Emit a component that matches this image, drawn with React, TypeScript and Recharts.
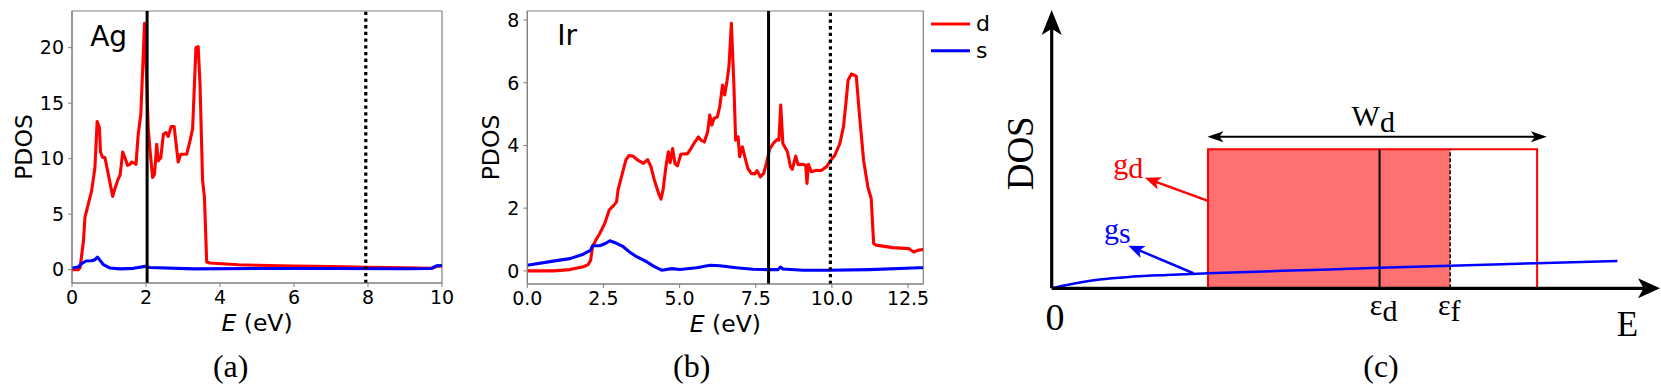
import React from "react";
import {
  LineChart,
  Line,
  XAxis,
  YAxis,
  ReferenceLine,
  ReferenceArea,
  ReferenceDot,
  Legend,
} from "recharts";

// panel (a): Ag projected DOS
const agDE = [0, 0.17, 0.22, 0.31, 0.35, 0.44, 0.53, 0.62, 0.68, 0.74, 0.77, 0.83, 0.89, 1.1, 1.16, 1.25, 1.3, 1.37, 1.43, 1.5, 1.57, 1.61, 1.73, 1.79, 1.86, 1.96, 2.0, 2.06, 2.11, 2.18, 2.23, 2.29, 2.33, 2.4, 2.47, 2.54, 2.6, 2.68, 2.76, 2.87, 2.94, 3.1, 3.19, 3.26, 3.35, 3.41, 3.46, 3.53, 3.58, 3.64, 3.73, 4.5, 5.0, 6.0, 7.0, 8.0, 9.0, 9.75, 9.85, 10];
const agDV = [0, 0, 0.2, 2.6, 4.7, 5.9, 7.1, 9.2, 13.35, 12.8, 10.6, 10.1, 10.1, 6.6, 7.3, 8.2, 8.5, 10.6, 10.1, 9.4, 9.5, 9.7, 9.5, 12.2, 14.0, 22.2, 18.8, 12.8, 10.7, 8.3, 8.6, 11.3, 9.8, 10.1, 12.2, 12.35, 12.0, 12.9, 12.9, 9.7, 10.4, 10.4, 11.6, 12.7, 20.0, 20.1, 16.7, 8.0, 6.5, 0.7, 0.6, 0.45, 0.4, 0.33, 0.28, 0.22, 0.17, 0.13, 0.3, 0.33];
const agSE = [0, 0.17, 0.26, 0.38, 0.53, 0.62, 0.69, 0.76, 0.85, 1.03, 1.3, 1.66, 1.98, 2.1, 3.3, 5, 7, 9, 9.7, 9.85, 10];
const agSV = [0.15, 0.25, 0.55, 0.78, 0.8, 0.9, 1.13, 0.83, 0.45, 0.15, 0.07, 0.12, 0.3, 0.2, 0.07, 0.1, 0.1, 0.08, 0.1, 0.35, 0.38];
const agTicksX = [0, 2, 4, 6, 8, 10];
const agTicksY = [0, 5, 10, 15, 20];
const agEd = 2.03;
const agEf = 7.94;

// panel (b): Ir projected DOS
const irDE = [0, 0.85, 1.4, 1.84, 2.0, 2.08, 2.14, 2.25, 2.38, 2.55, 2.69, 2.82, 2.93, 2.98, 3.09, 3.24, 3.34, 3.47, 3.63, 3.81, 3.95, 4.06, 4.17, 4.31, 4.39, 4.46, 4.55, 4.63, 4.69, 4.77, 4.85, 4.93, 5.04, 5.26, 5.37, 5.48, 5.62, 5.7, 5.81, 5.92, 5.99, 6.06, 6.13, 6.24, 6.32, 6.41, 6.48, 6.56, 6.62, 6.7, 6.78, 6.84, 6.92, 6.97, 7.06, 7.14, 7.24, 7.35, 7.46, 7.54, 7.65, 7.76, 7.85, 7.96, 8.09, 8.2, 8.26, 8.32, 8.39, 8.54, 8.64, 8.7, 8.81, 8.89, 9.03, 9.14, 9.18, 9.23, 9.32, 9.49, 9.65, 9.82, 9.98, 10.09, 10.26, 10.38, 10.47, 10.53, 10.64, 10.8, 10.91, 11.04, 11.18, 11.29, 11.37, 11.45, 12.0, 12.52, 12.68, 12.85, 13.0];
const irDV = [0, 0, 0.04, 0.13, 0.2, 0.34, 0.77, 0.98, 1.19, 1.53, 1.94, 2.07, 2.2, 2.58, 3.0, 3.55, 3.68, 3.66, 3.53, 3.43, 3.55, 3.32, 2.9, 2.47, 2.29, 2.6, 3.32, 3.8, 3.45, 3.9, 3.42, 3.35, 3.72, 3.74, 3.9, 4.08, 4.27, 4.17, 4.11, 4.43, 4.97, 4.65, 4.86, 4.91, 5.25, 5.93, 5.61, 6.08, 6.51, 7.9, 5.98, 4.17, 4.28, 3.64, 3.96, 3.64, 3.27, 3.11, 3.09, 3.2, 3.0, 3.11, 3.43, 3.9, 4.08, 4.19, 4.17, 5.29, 4.06, 3.8, 3.32, 3.24, 3.66, 3.39, 3.4, 3.37, 2.79, 3.4, 3.16, 3.21, 3.2, 3.32, 3.55, 3.68, 4.06, 4.6, 5.45, 6.08, 6.28, 6.21, 4.91, 3.53, 2.68, 2.3, 0.87, 0.82, 0.74, 0.71, 0.6, 0.66, 0.68];
const irSE = [0, 0.85, 1.4, 1.84, 2.08, 2.14, 2.38, 2.58, 2.71, 2.93, 3.15, 3.37, 3.59, 3.92, 4.14, 4.41, 4.74, 5.01, 5.56, 6.0, 6.32, 6.86, 7.41, 7.85, 8.23, 8.31, 8.39, 9.05, 9.92, 11.23, 12.87, 13.0];
const irSV = [0.18, 0.31, 0.39, 0.53, 0.66, 0.8, 0.8, 0.88, 0.96, 0.88, 0.77, 0.59, 0.45, 0.29, 0.15, 0.02, 0.07, 0.04, 0.1, 0.18, 0.16, 0.1, 0.05, 0.04, 0.04, 0.12, 0.06, 0.02, 0.02, 0.04, 0.1, 0.1];
const irTicksX = [0, 2.5, 5, 7.5, 10, 12.5];
const irTicksY = [0, 2, 4, 6, 8];
const irEd = 7.92;
const irEf = 9.95;

// panel (c): schematic model (arbitrary units)
const gsE = [0, 0.25, 0.79, 1.34, 1.89, 2.57, 4.58, 5.39, 6.55, 7.97, 9.3];
const gsV = [0, 0.12, 0.32, 0.42, 0.48, 0.54, 0.68, 0.74, 0.81, 0.9, 0.98];
const bandLo = 2.57;
const bandHi = 7.98;
const bandG = 5.0;
const epsD = 5.39;
const epsF = 6.55;

const toPts = (xs: number[], ys: number[]) => xs.map((e, i) => ({ e, v: ys[i] }));

const SANS = "'DejaVu Sans', sans-serif";
const SERIF = "'Liberation Serif', 'Times New Roman', serif";
const FRAME = "#808080";
const RED = "#ff0000";
const BLUE = "#0000ff";

const XTitle = (props: any) => {
  const vb = props.viewBox;
  return (
    <text x={vb.x + vb.width / 2} y={vb.y + 48} textAnchor="middle" fontFamily={SANS} fontSize={23.5} fill="#000">
      <tspan fontStyle="italic">E</tspan> (eV)
    </text>
  );
};

const YTitle = (props: any) => {
  const vb = props.viewBox;
  const x = vb.x + vb.width - props.gap;
  const y = vb.y + vb.height / 2;
  return (
    <text x={x} y={y} transform={`rotate(-90, ${x}, ${y})`} textAnchor="middle" fontFamily={SANS} fontSize={23.5} fill="#000">
      PDOS
    </text>
  );
};

const nameMark = (label: string) => (p: any) => (
  <text x={p.cx} y={p.cy} fontFamily={SANS} fontSize={28} fill="#000">
    {label}
  </text>
);

const LegendBox = (props: any) => {
  const items = props.payload || [];
  return (
    <svg width={60} height={60} style={{ display: "block" }}>
      {items.map((it: any, i: number) => (
        <g key={it.value}>
          <line x1={0} y1={14 + i * 26.7} x2={39} y2={14 + i * 26.7} stroke={it.color} strokeWidth={3} />
          <text x={45} y={21 + i * 27} fontFamily={SANS} fontSize={22} fill="#000">
            {it.value}
          </text>
        </g>
      ))}
    </svg>
  );
};

function PdosPanel(p: any) {
  const [x0, x1] = p.xDomain;
  const [y0, y1] = p.yDomain;
  return (
    <div style={{ position: "absolute", left: p.left, top: 0 }}>
      <LineChart width={p.width} height={340} margin={{ top: 11, right: p.right, bottom: 0, left: 0 }}>
        <XAxis
          type="number"
          dataKey="e"
          domain={p.xDomain}
          ticks={p.xTicks}
          interval={0}
          allowDataOverflow
          height={p.xHeight}
          tickSize={4}
          tickMargin={4}
          tickFormatter={p.fmt}
          stroke={FRAME}
          tick={{ fill: "#000", fontSize: 19, fontFamily: SANS }}
          label={<XTitle />}
        />
        <YAxis
          type="number"
          dataKey="v"
          domain={p.yDomain}
          ticks={p.yTicks}
          interval={0}
          allowDataOverflow
          width={p.yWidth}
          tickSize={4}
          tickMargin={4}
          stroke={FRAME}
          tick={{ fill: "#000", fontSize: 19, fontFamily: SANS }}
          label={<YTitle gap={p.titleGap} />}
        />
        <ReferenceArea x1={x0} x2={x1} y1={y0} y2={y1} fill="none" stroke={FRAME} strokeWidth={1.2} />
        <Line data={p.d} dataKey="v" name="d" type="linear" stroke={RED} strokeWidth={3.1} dot={false} isAnimationActive={false} strokeLinejoin="round" />
        <Line data={p.s} dataKey="v" name="s" type="linear" stroke={BLUE} strokeWidth={3.1} dot={false} isAnimationActive={false} strokeLinejoin="round" />
        <ReferenceLine x={p.ed} stroke="#000" strokeWidth={3} />
        <ReferenceLine x={p.ef} stroke="#000" strokeWidth={3.2} strokeDasharray="3.3 3.4" />
        <ReferenceDot x={p.namePos[0]} y={p.namePos[1]} r={0} shape={nameMark(p.name)} />
        {p.legend ? (
          <Legend
            layout="vertical"
            align="right"
            verticalAlign="top"
            content={<LegendBox />}
            wrapperStyle={{ left: p.legendLeft, top: 10, width: 60 }}
          />
        ) : null}
      </LineChart>
    </div>
  );
}

const arrowShape = (color: string, w: number, head: number, half: number, both: boolean) => (p: any) => {
  const { x1, y1, x2, y2 } = p;
  const len = Math.hypot(x2 - x1, y2 - y1) || 1;
  const ux = (x2 - x1) / len;
  const uy = (y2 - y1) / len;
  const nx = -uy;
  const ny = ux;
  const tri = (tx: number, ty: number, dx: number, dy: number) => {
    const bx = tx - dx * head;
    const by = ty - dy * head;
    const mx = tx - dx * head * 0.75;
    const my = ty - dy * head * 0.75;
    return `${tx},${ty} ${bx + nx * half},${by + ny * half} ${mx},${my} ${bx - nx * half},${by - ny * half}`;
  };
  const sx = both ? x1 + ux * head * 0.7 : x1;
  const sy = both ? y1 + uy * head * 0.7 : y1;
  return (
    <g>
      <line x1={sx} y1={sy} x2={x2 - ux * head * 0.7} y2={y2 - uy * head * 0.7} stroke={color} strokeWidth={w} />
      <polygon points={tri(x2, y2, ux, uy)} fill={color} />
      {both ? <polygon points={tri(x1, y1, -ux, -uy)} fill={color} /> : null}
    </g>
  );
};

const subMark = (main: string, sub: string, color: string, size: number, dy: number) => (p: any) => (
  <text x={p.cx} y={p.cy} fill={color} fontFamily={SERIF} fontSize={size}>
    {main}
    <tspan dy={dy}>{sub}</tspan>
  </text>
);

const plainMark = (label: string, size: number, anchor: string, rotate: boolean) => (p: any) => (
  <text
    x={p.cx}
    y={p.cy}
    fill="#000"
    fontFamily={SERIF}
    fontSize={size}
    textAnchor={anchor}
    transform={rotate ? `rotate(-90, ${p.cx}, ${p.cy})` : undefined}
  >
    {label}
  </text>
);

function ModelPanel() {
  return (
    <div style={{ position: "absolute", left: 1000, top: 0 }}>
      <LineChart width={661} height={385} margin={{ top: 10, right: 1, bottom: 96.7, left: 51.7 }}>
        <XAxis type="number" dataKey="e" domain={[0, 10]} hide allowDataOverflow />
        <YAxis type="number" dataKey="v" domain={[0, 10]} hide allowDataOverflow />
        <ReferenceArea x1={bandLo} x2={epsF} y1={0} y2={bandG} fill={RED} fillOpacity={0.56} stroke="none" />
        <ReferenceArea x1={bandLo} x2={bandHi} y1={0} y2={bandG} fill="none" stroke={RED} strokeWidth={2} />
        <ReferenceLine segment={[{ x: epsD, y: 0 }, { x: epsD, y: bandG }]} stroke="#000" strokeWidth={2} />
        <ReferenceLine segment={[{ x: epsF, y: 0 }, { x: epsF, y: bandG }]} stroke="#000" strokeWidth={1.5} strokeDasharray="4 2" />
        <Line data={toPts(gsE, gsV)} dataKey="v" type="monotone" stroke={BLUE} strokeWidth={2.5} dot={false} isAnimationActive={false} />
        <ReferenceLine segment={[{ x: 0, y: 0 }, { x: 10, y: 0 }]} shape={arrowShape("#000", 3.2, 22, 10, false)} />
        <ReferenceLine segment={[{ x: 0, y: 0 }, { x: 0, y: 10 }]} shape={arrowShape("#000", 3.2, 25, 10, false)} />
        <ReferenceLine segment={[{ x: bandLo - 0.01, y: 5.45 }, { x: 8.14, y: 5.45 }]} shape={arrowShape("#000", 2, 16, 5.5, true)} />
        <ReferenceLine segment={[{ x: bandLo, y: 3.14 }, { x: 1.53, y: 3.97 }]} shape={arrowShape(RED, 2.5, 16, 6.5, false)} />
        <ReferenceLine segment={[{ x: 2.33, y: 0.54 }, { x: 1.26, y: 1.53 }]} shape={arrowShape(BLUE, 2.5, 16, 6.5, false)} />
        <ReferenceDot x={4.93} y={5.83} r={0} ifOverflow="visible" shape={subMark("W", "d", "#000", 30, 6)} />
        <ReferenceDot x={1.01} y={4.1} r={0} ifOverflow="visible" shape={subMark("g", "d", RED, 30, 4)} />
        <ReferenceDot x={0.86} y={1.77} r={0} ifOverflow="visible" shape={subMark("g", "s", BLUE, 30, 4)} />
        <ReferenceDot x={5.23} y={-0.96} r={0} ifOverflow="visible" shape={subMark("ε", "d", "#000", 30, 6)} />
        <ReferenceDot x={6.35} y={-0.96} r={0} ifOverflow="visible" shape={subMark("ε", "f", "#000", 30, 6)} />
        <ReferenceDot x={0.055} y={-1.5} r={0} ifOverflow="visible" shape={plainMark("0", 38, "middle", false)} />
        <ReferenceDot x={9.29} y={-1.71} r={0} ifOverflow="visible" shape={plainMark("E", 35, "start", false)} />
        <ReferenceDot x={-0.3} y={4.85} r={0} ifOverflow="visible" shape={plainMark("DOS", 37, "middle", true)} />
      </LineChart>
    </div>
  );
}

const captionStyle = (cx: number): React.CSSProperties => ({
  position: "absolute",
  left: cx - 40,
  width: 80,
  top: 350,
  lineHeight: "32px",
  fontSize: 32,
  fontFamily: SERIF,
  textAlign: "center",
  color: "#000",
});

export default function App() {
  return (
    <div style={{ position: "absolute", left: 0, top: 0, width: 1661, height: 385, overflow: "hidden", background: "#fff" }}>
      <PdosPanel
        left={0}
        width={460}
        right={18}
        xHeight={57}
        yWidth={72}
        titleGap={40.3}
        xDomain={[0, 10]}
        yDomain={[-1.2, 23.3]}
        xTicks={agTicksX}
        yTicks={agTicksY}
        d={toPts(agDE, agDV)}
        s={toPts(agSE, agSV)}
        ed={agEd}
        ef={agEf}
        name="Ag"
        namePos={[0.49, 20.15]}
        legend={false}
      />
      <PdosPanel
        left={440}
        width={560}
        right={16.7}
        xHeight={56}
        yWidth={87.3}
        titleGap={28.3}
        xDomain={[0, 13]}
        yDomain={[-0.42, 8.29]}
        xTicks={irTicksX}
        yTicks={irTicksY}
        fmt={(v: number) => v.toFixed(1)}
        d={toPts(irDE, irDV)}
        s={toPts(irSE, irSV)}
        ed={irEd}
        ef={irEf}
        name="Ir"
        namePos={[0.98, 7.2]}
        legend={true}
        legendLeft={491}
      />
      <ModelPanel />
      <div style={captionStyle(230.7)}>(a)</div>
      <div style={captionStyle(691.7)}>(b)</div>
      <div style={captionStyle(1381)}>(c)</div>
    </div>
  );
}
